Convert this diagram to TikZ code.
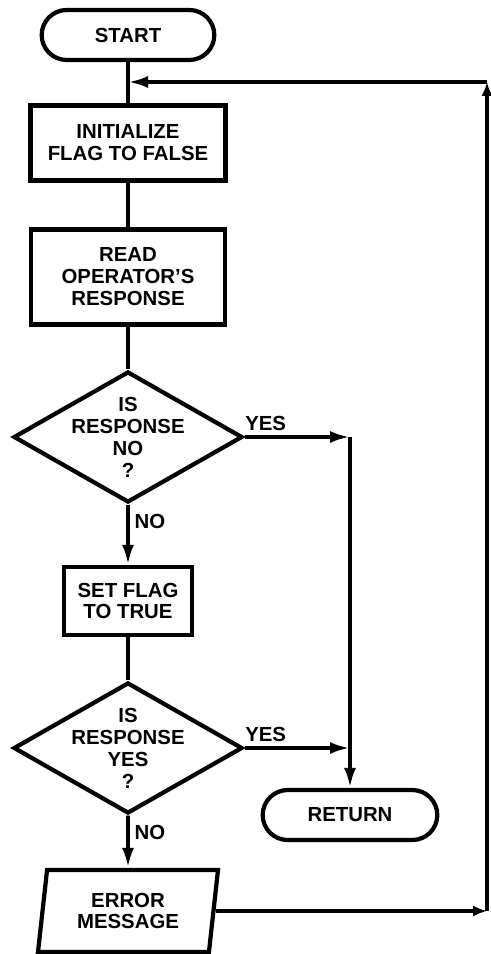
\documentclass[tikz,border=0pt]{standalone}
\usepackage{fontspec}
\setmainfont{Liberation Sans}
\usetikzlibrary{arrows.meta,shapes.geometric,shapes.misc}

\begin{document}
\begin{tikzpicture}[>={Latex[length=5mm,width=3mm]},font=\fontsize{14.5}{15.6}\selectfont\bfseries]
  \tikzstyle{terminal}=[draw,line width=3pt,rounded rectangle,minimum width=4.55cm,minimum height=1.25cm]
  \tikzstyle{process}=[draw,line width=3pt,align=center,inner sep=0pt]
  \tikzstyle{decision}=[draw,line width=3pt,diamond,align=center,inner xsep=-0.6cm,inner ysep=-0.6cm,minimum width=5.725cm,minimum height=3.275cm]
  \tikzstyle{io}=[draw,line width=3pt,trapezium,trapezium left angle=76,trapezium right angle=104,trapezium stretches body,align=center,inner sep=0pt,minimum width=4.5cm,minimum height=2.05cm]
  \tikzstyle{flow}=[line width=2.7pt]
  \tikzstyle{small}=[-{Latex[length=3.5mm,width=2.8mm]}]
  \useasboundingbox (0,0) rectangle (12.275,-23.85);
  \node[terminal] (start) at (3.2,-0.875) {START};
  \node[process,minimum width=4.875cm,minimum height=1.875cm] (init) at (3.2,-3.575) {INITIALIZE\\FLAG TO FALSE};
  \node[process,minimum width=4.85cm,minimum height=2.375cm] (read) at (3.2,-6.925) {READ\\OPERATOR'S\\RESPONSE};
  \node[decision] (isno) at (3.2,-10.925) {IS\\RESPONSE\\NO\\?};
  \node[process,minimum width=3.2cm,minimum height=1.7cm] (setflag) at (3.2,-15.025) {SET FLAG\\TO TRUE};
  \node[decision] (isyes) at (3.2,-18.7) {IS\\RESPONSE\\YES\\?};
  \node[terminal,minimum width=4.6cm] (ret) at (8.75,-20.375) {RETURN};
  \node[io] (errmsg) at (3.2,-22.775) {ERROR\\MESSAGE};
  \coordinate (join1) at (8.75,-10.925);
  \coordinate (join2) at (8.75,-18.7);
  \coordinate (corner) at (12.175,-2.05);
  \coordinate (loop) at (3.2,-2.05);
  \foreach \a/\b in {start/init,init/read,read/isno,setflag/isyes}
    \draw[flow] (\a) -- (\b);
  \draw[flow,->] (isno) -- node[right,pos=0.28]{NO} (setflag);
  \draw[flow,->] (isyes) -- node[right,pos=0.33]{NO} (errmsg);
  \draw[flow,->] (isno.east) -- node[above,pos=0.2]{YES} (join1);
  \draw[flow,->] (isyes.east) -- node[above,pos=0.2]{YES} (join2);
  \draw[flow,->] (join1) -- (ret);
  \draw[flow,small] (errmsg.east) -- (errmsg.east -| corner);
  \draw[flow,small] (errmsg.east -| corner) -- (corner);
  \draw[flow,->] (corner) -- (loop);
\end{tikzpicture}
\end{document}
